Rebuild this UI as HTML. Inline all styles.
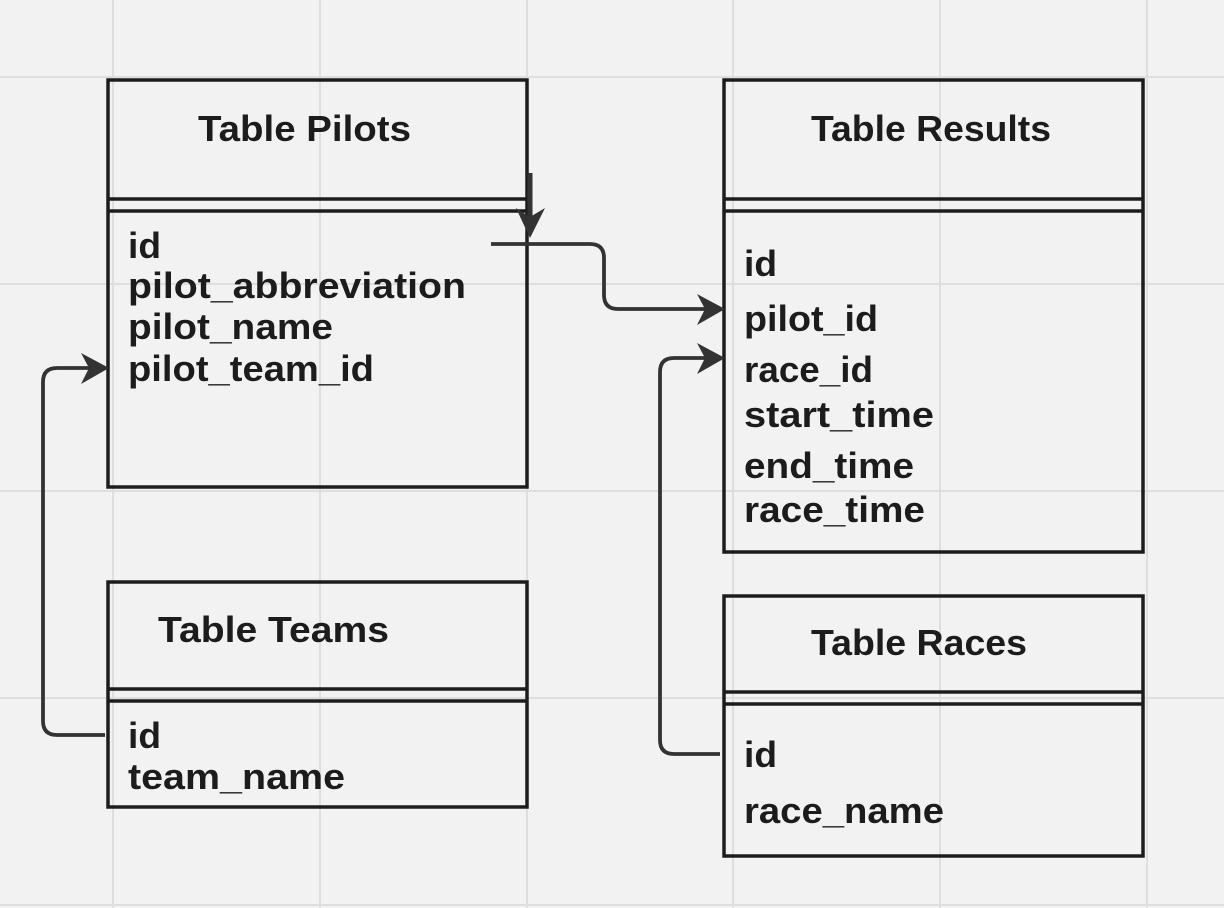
<!DOCTYPE html>
<html><head><meta charset="utf-8"><style>
html,body{margin:0;padding:0;background:#f2f2f2;}
svg{display:block;}
text{font-family:"Liberation Sans",sans-serif;font-weight:bold;fill:#1c1c1c;font-size:36px;}
</style></head><body>
<svg width="1224" height="908" viewBox="0 0 1224 908" xmlns="http://www.w3.org/2000/svg">
<rect width="1224" height="908" fill="#f2f2f2"/>
<g stroke="#dedede" stroke-width="2">
<line x1="113" y1="0" x2="113" y2="908"/><line x1="320" y1="0" x2="320" y2="908"/>
<line x1="527" y1="0" x2="527" y2="908"/><line x1="733" y1="0" x2="733" y2="908"/>
<line x1="940" y1="0" x2="940" y2="908"/><line x1="1147" y1="0" x2="1147" y2="908"/>
<line x1="0" y1="77" x2="1224" y2="77"/><line x1="0" y1="284" x2="1224" y2="284"/>
<line x1="0" y1="491" x2="1224" y2="491"/><line x1="0" y1="698" x2="1224" y2="698"/>
<line x1="0" y1="905" x2="1224" y2="905"/>
</g>
<g fill="none" stroke="#1c1c1c" stroke-width="3.5">
<rect x="108" y="80" width="419" height="407"/>
<line x1="108" y1="199" x2="527" y2="199"/><line x1="108" y1="211" x2="527" y2="211"/>
<rect x="724" y="80" width="419" height="472"/>
<line x1="724" y1="199" x2="1143" y2="199"/><line x1="724" y1="211" x2="1143" y2="211"/>
<rect x="108" y="582" width="419" height="225"/>
<line x1="108" y1="689" x2="527" y2="689"/><line x1="108" y1="701" x2="527" y2="701"/>
<rect x="724" y="596" width="419" height="260"/>
<line x1="724" y1="692" x2="1143" y2="692"/><line x1="724" y1="704" x2="1143" y2="704"/>
</g>
<text x="198" y="141" textLength="213" lengthAdjust="spacingAndGlyphs">Table Pilots</text>
<text x="128" y="258" textLength="33" lengthAdjust="spacingAndGlyphs">id</text>
<text x="128" y="298" textLength="338" lengthAdjust="spacingAndGlyphs">pilot_abbreviation</text>
<text x="128" y="339" textLength="205" lengthAdjust="spacingAndGlyphs">pilot_name</text>
<text x="128" y="381" textLength="246" lengthAdjust="spacingAndGlyphs">pilot_team_id</text>
<text x="811" y="141" textLength="240" lengthAdjust="spacingAndGlyphs">Table Results</text>
<text x="744" y="276" textLength="33" lengthAdjust="spacingAndGlyphs">id</text>
<text x="744" y="331" textLength="134" lengthAdjust="spacingAndGlyphs">pilot_id</text>
<text x="744" y="382" textLength="129" lengthAdjust="spacingAndGlyphs">race_id</text>
<text x="744" y="427" textLength="190" lengthAdjust="spacingAndGlyphs">start_time</text>
<text x="744" y="478" textLength="170" lengthAdjust="spacingAndGlyphs">end_time</text>
<text x="744" y="522" textLength="181" lengthAdjust="spacingAndGlyphs">race_time</text>
<text x="158" y="642" textLength="231" lengthAdjust="spacingAndGlyphs">Table Teams</text>
<text x="128" y="748" textLength="33" lengthAdjust="spacingAndGlyphs">id</text>
<text x="128" y="789" textLength="217" lengthAdjust="spacingAndGlyphs">team_name</text>
<text x="811" y="655" textLength="216" lengthAdjust="spacingAndGlyphs">Table Races</text>
<text x="744" y="767" textLength="33" lengthAdjust="spacingAndGlyphs">id</text>
<text x="744" y="823" textLength="200" lengthAdjust="spacingAndGlyphs">race_name</text>
<g fill="none" stroke="#333" stroke-width="3.8" stroke-linejoin="round">
<line x1="530" y1="173" x2="530" y2="225" stroke-width="5"/>
<path d="M491 244 H590 Q604 244 604 258 V295 Q604 309 618 309 H712"/>
<path d="M720 754 H674 Q660 754 660 740 V372 Q660 358 674 358 H712"/>
<path d="M105 735 H57 Q43 735 43 721 V382 Q43 368 57 368 H96"/>
</g>
<g fill="#333">
<path d="M516 208 L530 238 L545 208 L530 217 Z"/>
<path d="M697 294 L725 309 L697 325 L705 309 Z"/>
<path d="M697 343 L725 358 L697 374 L705 358 Z"/>
<path d="M81 353 L109 368 L81 384 L89 368 Z"/>
</g>
</svg>
</body></html>
